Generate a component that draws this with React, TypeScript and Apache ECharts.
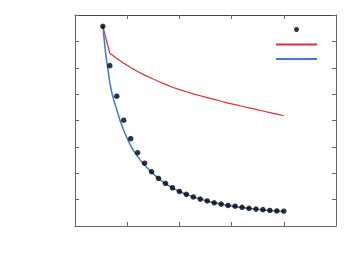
import React, { useEffect, useRef } from "react";
import * as echarts from "echarts";

const xs = [4,5,6,7,8,9,10,11,12,13,14,15,16,17,18,19,20,21,22,23,24,25,26,27,28,29,30];
const observed = [7.57,6.08,4.92,4.01,3.31,2.78,2.38,2.06,1.81,1.62,1.45,1.31,1.20,1.10,1.02,0.95,0.88,0.83,0.78,0.75,0.71,0.67,0.64,0.62,0.59,0.57,0.56];
const redModel = [7.57,6.55,6.35,6.17,6.01,5.86,5.72,5.60,5.48,5.37,5.26,5.17,5.09,5.01,4.94,4.87,4.80,4.73,4.66,4.60,4.54,4.48,4.42,4.36,4.30,4.24,4.18];
const blueModel = [7.57,5.44,4.40,3.62,3.05,2.63,2.31,2.04,1.80,1.61,1.45,1.31,1.20,1.10,1.02,0.95,0.88,0.83,0.78,0.74,0.70,0.67,0.64,0.61,0.59,0.57,0.55];
const seriesNames = ["observed", "model A", "model B"];

const pair = (v: number[]) => v.map((y, i) => [xs[i], y]);

export default function App() {
  const ref = useRef<HTMLDivElement>(null);
  useEffect(() => {
    const chart = echarts.init(ref.current!, null, { renderer: "svg" });
    const axisLine = { show: true, onZero: false, lineStyle: { color: "#666", width: 1 } };
    const tick = { show: true, inside: true, length: 4, lineStyle: { color: "#666" } };
    const xCommon = {
      type: "value" as const, min: 0, max: 37.5, interval: 7.5,
      axisLine, axisTick: tick,
      axisLabel: { show: false }, splitLine: { show: false },
    };
    const yCommon = {
      type: "value" as const, min: 0, max: 8, interval: 1,
      axisLine, axisTick: tick,
      axisLabel: { show: false }, splitLine: { show: false },
    };
    chart.setOption({
      animation: false,
      grid: { left: 75, right: 27, top: 15, bottom: 49, containLabel: false },
      xAxis: [ { ...xCommon, position: "bottom" }, { ...xCommon, position: "top", axisLine: { ...axisLine, lineStyle: { color: "#444", width: 1 } } } ],
      yAxis: [ { ...yCommon, position: "left" }, { ...yCommon, position: "right" } ],
      legend: {
        show: true, orient: "vertical", right: 40, top: 22, align: "left",
        itemWidth: 41, itemHeight: 5, itemGap: 10, padding: 5,
        formatter: () => "", textStyle: { fontSize: 1 },
        data: [
          { name: seriesNames[0] },
          { name: seriesNames[1], itemStyle: { opacity: 0 } },
          { name: seriesNames[2], itemStyle: { opacity: 0 } },
        ],
      },
      series: [
        {
          name: seriesNames[1], type: "line", data: pair(redModel), showSymbol: false, symbol: "none",
          lineStyle: { color: "#dd3030", width: 1.2 }, itemStyle: { color: "#dd3030" }, z: 2,
        },
        {
          name: seriesNames[2], type: "line", data: pair(blueModel), showSymbol: false, symbol: "none", smooth: 0.5,
          lineStyle: { color: "#3f78e0", width: 1.5 }, itemStyle: { color: "#3f78e0" }, z: 2,
        },
        {
          name: seriesNames[0], type: "scatter", data: pair(observed), symbol: "circle", symbolSize: 5.5,
          itemStyle: { color: "#000" }, z: 3,
        },
      ],
    });
    return () => chart.dispose();
  }, []);
  return <div ref={ref} style={{ width: 363, height: 275, position: "absolute", left: 0, top: 0 }} />;
}
